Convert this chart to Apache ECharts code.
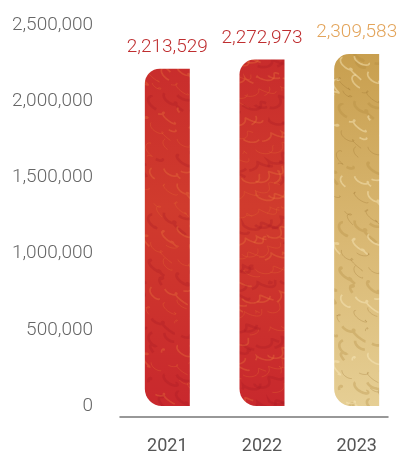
<!DOCTYPE html>
<html><head><meta charset="utf-8">
<script src="https://cdn.jsdelivr.net/npm/echarts@6/dist/echarts.min.js"></script>
<style>html,body{margin:0;padding:0;background:#fff}#c{width:404px;height:456px}</style>
</head><body><div id="c"></div>
<script>
const categories = ['2021', '2022', '2023'];
const values = [2213529, 2272973, 2309583];
const labelColors = ['#bf2e30', '#bf2e30', '#e3a45a'];
const yTicks = [0, 500000, 1000000, 1500000, 2000000, 2500000];

// decorative page-sized textures (no tiling seams)
function texture(stops, strokes, count, seed) {
  const c = document.createElement('canvas');
  c.width = 404; c.height = 456;
  const g = c.getContext('2d');
  const gr = g.createLinearGradient(0, 40, 0, 410);
  stops.forEach(s => gr.addColorStop(s[0], s[1]));
  g.fillStyle = gr; g.fillRect(0, 0, 404, 456);
  for (let k = 0; k < count; k++) {
    const fx = ((k + seed) * 0.6180339887) % 1, fy = ((k + seed) * 0.7548776662) % 1;
    const cx = fx * 404, cy = 30 + fy * 400;
    g.strokeStyle = strokes[k % strokes.length];
    g.lineWidth = 0.8 + (k % 3) * 0.9;
    g.beginPath();
    const ang = k * 2.399;
    const len = 10 + (k % 5) * 6;
    for (let t = 0; t <= len; t += 1) {
      const x = cx + Math.cos(ang) * t + Math.sin(t * 0.35 + k) * 3;
      const y = cy + Math.sin(ang) * t * 0.6 + Math.cos(t * 0.3 + k) * 3;
      t ? g.lineTo(x, y) : g.moveTo(x, y);
    }
    g.stroke();
  }
  return c;
}
const redTex = texture([[0, '#c72a2c'], [0.45, '#d03b2d'], [1, '#c8282d']],
  ['rgba(226,100,50,0.45)', 'rgba(236,120,60,0.35)', 'rgba(170,25,35,0.3)'], 700, 1);
const goldTex = texture([[0, '#c79d4c'], [0.5, '#d8b670'], [1, '#e6cf95']],
  ['rgba(150,110,45,0.35)', 'rgba(250,235,190,0.45)', 'rgba(175,135,60,0.3)'], 700, 5);
const fills = [redTex, redTex, goldTex];

const chart = echarts.init(document.getElementById('c'));
const fontFam = 'Roboto, "Liberation Sans", sans-serif';
chart.setOption({
  animation: false,
  grid: [
    {left: 120, right: -4, top: 25, bottom: 50},
    {left: 120, right: 16, top: 25, bottom: 50}
  ],
  xAxis: [
    {type: 'category', gridIndex: 0, data: categories, offset: 11,
     axisLine: {show: false, onZero: false}, axisTick: {show: false},
     axisLabel: {margin: 20, fontSize: 18, color: '#555', fontFamily: fontFam}},
    {type: 'category', gridIndex: 1, data: categories, offset: 11,
     axisLine: {show: true, onZero: false, lineStyle: {color: '#777', width: 1.5}}, axisTick: {show: false},
     axisLabel: {show: false}}
  ],
  yAxis: [
    {type: 'value', gridIndex: 0, min: yTicks[0], max: yTicks[yTicks.length - 1], interval: yTicks[1] - yTicks[0],
     splitLine: {show: false}, axisLine: {show: false}, axisTick: {show: false},
     axisLabel: {margin: 27, fontSize: 19, color: '#666', fontFamily: fontFam, fontWeight: 300,
       formatter: v => v.toLocaleString('en-US')}},
    {type: 'value', gridIndex: 1, min: 0, max: 2500000, show: false}
  ],
  series: [{
    type: 'bar', xAxisIndex: 0, yAxisIndex: 0, barWidth: 45,
    data: values.map((v, i) => ({
      value: v,
      itemStyle: {color: {image: fills[i], repeat: 'no-repeat'}, borderRadius: [15, 0, 0, 17]},
      label: {color: labelColors[i]}
    })),
    label: {show: true, position: 'top', distance: 12, fontSize: 19, fontFamily: fontFam, fontWeight: 300,
      formatter: p => p.value.toLocaleString('en-US')}
  }]
});
</script></body></html>
